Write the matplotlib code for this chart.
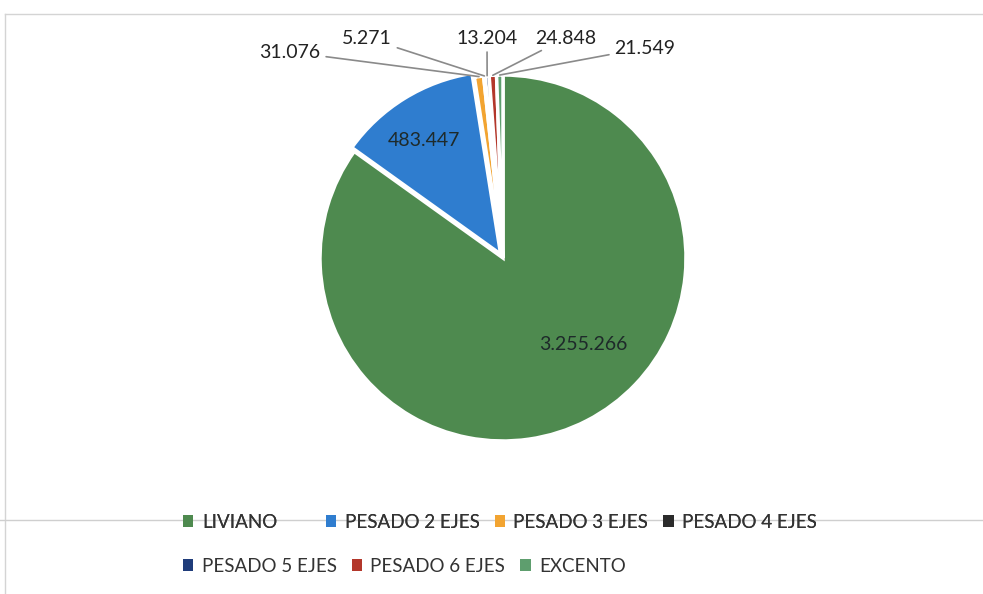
import matplotlib
matplotlib.use("Agg")
import matplotlib.pyplot as plt
from matplotlib.lines import Line2D
import numpy as np

plt.rcParams['font.family'] = ['Lato', 'DejaVu Sans']

categories = ["LIVIANO", "PESADO 2 EJES", "PESADO 3 EJES", "PESADO 4 EJES",
              "PESADO 5 EJES", "PESADO 6 EJES", "EXCENTO"]
values = [3255266, 483447, 31076, 5271, 13204, 24848, 21549]
value_labels = ["3.255.266", "483.447", "31.076", "5.271", "13.204", "24.848", "21.549"]
colors = ["#4E8A4F", "#2F7DCF", "#F2A431", "#2B2B2B", "#1F3C7A", "#B3372B", "#5E9E6E"]

W, H = 983, 594
fig = plt.figure(figsize=(W / 100, H / 100), dpi=100)

# pie axes: center (503,258) px, radius 183 px
cx, cy, r = 503, 258, 183
ax = fig.add_axes([(cx - r) / W, (H - cy - r) / H, 2 * r / W, 2 * r / H])

explode = [0, 0.025, 0, 0, 0, 0, 0]
wedges, _ = ax.pie(values, colors=colors, startangle=90, counterclock=False,
                   radius=1.0, explode=explode,
                   wedgeprops=dict(edgecolor='white', linewidth=2.5))
ax.set_xlim(-1, 1)
ax.set_ylim(-1, 1)
ax.set_aspect('equal')
ax.axis('off')
for w in wedges:
    w.set_clip_on(False)

def px2data(px, py):
    return ((px - cx) / r, (cy - py) / r)

# inside labels
inside = {0: (583, 345), 1: (424, 141)}
for i, (px, py) in inside.items():
    x, y = px2data(px, py)
    ax.text(x, y, value_labels[i], ha='center', va='center', fontsize=14,
            color='#1e2a2a')

# outside labels with leader lines
text_pos = {2: (290, 52), 3: (367, 38), 4: (487, 38), 5: (566, 38), 6: (645, 48)}
for i, (px, py) in text_pos.items():
    w = wedges[i]
    ang = np.deg2rad((w.theta1 + w.theta2) / 2)
    tx, ty = px2data(px, py)
    ax.annotate(value_labels[i], xy=(1.0 * np.cos(ang), 1.0 * np.sin(ang)),
                xytext=(tx, ty), ha='center', va='center', fontsize=14,
                color='#222222', annotation_clip=False,
                arrowprops=dict(arrowstyle='-', color='#8a8a8a', lw=1.2,
                                shrinkA=2, shrinkB=0))

# chart border lines (light gray)
fig.add_artist(Line2D([5 / W, 1], [1 - 14 / H, 1 - 14 / H], color='#d4d4d4', lw=1))
fig.add_artist(Line2D([5 / W, 5 / W], [0, 1 - 14 / H], color='#d4d4d4', lw=1))
fig.add_artist(Line2D([0, 1], [1 - 520 / H, 1 - 520 / H], color='#cfcfcf', lw=1))

# legends
def make_legend(idxs, x0, yc):
    handles = [plt.Rectangle((0, 0), 1, 1, facecolor=colors[i], edgecolor='none') for i in idxs]
    labels = [categories[i] for i in idxs]
    leg = fig.legend(handles, labels, loc='center left',
                     bbox_to_anchor=(x0 / W, 1 - yc / H), ncol=len(idxs),
                     frameon=False, fontsize=13.5, handlelength=0.55, handleheight=0.55,
                     handletextpad=0.45, columnspacing=0.8, borderpad=0, borderaxespad=0,
                     labelcolor='#333333')
    return leg

l1 = make_legend([0], 183, 522)
fig.add_artist(l1)
l2 = make_legend([1, 2, 3], 326, 522)
fig.add_artist(l2)
l3 = make_legend([4, 5, 6], 183, 566)

fig.savefig("out.png", dpi=100, facecolor='white')
